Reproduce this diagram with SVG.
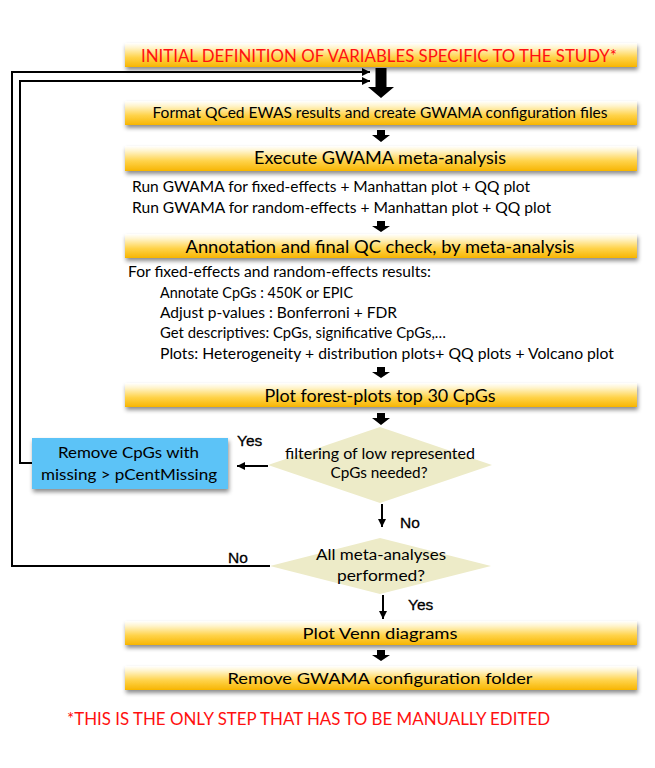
<svg xmlns="http://www.w3.org/2000/svg" width="655" height="768" viewBox="0 0 655 768">
<style>
  .t { font-family: Lato, "Liberation Sans", sans-serif; fill: #000; }
  .c { text-anchor: middle; }
  .red { fill: #FF1010; }
  .lbl { font-family: "Liberation Sans", Arial, sans-serif; font-size: 15.5px; fill: #000; stroke: #000; stroke-width: 0.3; }
  .box { fill: url(#gold); filter: url(#sh); }
  .dia { fill: #EDEBC8; }
  .blue { fill: #5BC3F7; filter: url(#sh); }
  .ln { fill: none; stroke: #000; stroke-width: 2; }
  .blk { fill: #000; }
</style>
<defs>
  <linearGradient id="gold" x1="0" y1="0" x2="0" y2="1">
    <stop offset="0" stop-color="#FFFFFF"/>
    <stop offset="0.2" stop-color="#FFF4CC"/>
    <stop offset="0.6" stop-color="#FFD34A"/>
    <stop offset="1" stop-color="#F7B500"/>
  </linearGradient>
  <filter id="sh" x="-5%" y="-30%" width="110%" height="170%">
    <feDropShadow dx="1" dy="3" stdDeviation="2" flood-color="#000" flood-opacity="0.45"/>
  </filter>
  <marker id="ah" markerUnits="userSpaceOnUse" markerWidth="10" markerHeight="10" refX="8" refY="4" orient="auto">
    <path d="M0,0 L8,4 L0,8 z" fill="#000"/>
  </marker>
</defs>

<g id="connectors">
  <polyline class="ln" points="270,566 12,566 12,72 370,72" marker-end="url(#ah)"/>
  <polyline class="ln" points="32,463 20,463 20,81 370,81" marker-end="url(#ah)"/>
  <line class="ln" x1="268" y1="466" x2="237" y2="466" marker-end="url(#ah)"/>
  <line class="ln" x1="382" y1="504" x2="382" y2="527" marker-end="url(#ah)"/>
  <line class="ln" x1="383" y1="595" x2="383" y2="619" marker-end="url(#ah)"/>
  <polygon class="blk" points="375.5,68 386.5,68 386.5,87 394,87 381,98 368,87 375.5,87"/>
  <polygon class="blk" points="377,130 385,130 385,135 390,135 381,142 372,135 377,135"/>
  <polygon class="blk" points="377,221 385,221 385,226 390,226 381,232 372,226 377,226"/>
  <polygon class="blk" points="377,367 385,367 385,372 390,372 381,378 372,372 377,372"/>
  <polygon class="blk" points="377,413 385,413 385,418 390,418 381,425 372,418 377,418"/>
  <polygon class="blk" points="377,650 385,650 385,655 390,655 381,661 372,655 377,655"/>
</g>

<g id="n1">
  <rect class="box" x="125" y="43" width="512" height="24"/>
  <text class="t c red" x="379" y="61.5" font-size="16.5" textLength="476" lengthAdjust="spacingAndGlyphs">INITIAL DEFINITION OF VARIABLES SPECIFIC TO THE STUDY*</text>
</g>
<g id="n2">
  <rect class="box" x="125" y="101" width="512" height="24"/>
  <text class="t c" x="380" y="118" font-size="14.5" textLength="455" lengthAdjust="spacingAndGlyphs">Format QCed EWAS results and create GWAMA configuration files</text>
</g>
<g id="n3">
  <rect class="box" x="125" y="146" width="512" height="25"/>
  <text class="t c" x="380" y="164" font-size="17" textLength="252" lengthAdjust="spacingAndGlyphs">Execute GWAMA meta-analysis</text>
  <text class="t" x="132" y="192" font-size="14.5" textLength="398" lengthAdjust="spacingAndGlyphs">Run GWAMA for fixed-effects + Manhattan plot + QQ plot</text>
  <text class="t" x="132" y="213" font-size="14.5" textLength="419" lengthAdjust="spacingAndGlyphs">Run GWAMA for random-effects + Manhattan plot + QQ plot</text>
</g>
<g id="n4">
  <rect class="box" x="125" y="234" width="512" height="24"/>
  <text class="t c" x="380" y="252.5" font-size="18" textLength="389" lengthAdjust="spacingAndGlyphs">Annotation and final QC check, by meta-analysis</text>
  <text class="t" x="128" y="277" font-size="14.5" textLength="303" lengthAdjust="spacingAndGlyphs">For fixed-effects and random-effects results:</text>
  <text class="t" x="160" y="298" font-size="14.5" textLength="193" lengthAdjust="spacingAndGlyphs">Annotate CpGs : 450K or EPIC</text>
  <text class="t" x="160" y="318" font-size="14.5" textLength="237" lengthAdjust="spacingAndGlyphs">Adjust p-values : Bonferroni + FDR</text>
  <text class="t" x="160" y="338" font-size="14.5" textLength="286" lengthAdjust="spacingAndGlyphs">Get descriptives: CpGs, significative CpGs,…</text>
  <text class="t" x="160" y="359" font-size="14.5" textLength="454" lengthAdjust="spacingAndGlyphs">Plots: Heterogeneity + distribution plots+ QQ plots + Volcano plot</text>
</g>
<g id="n5">
  <rect class="box" x="125" y="383" width="512" height="24"/>
  <text class="t c" x="380" y="401.5" font-size="17.5" textLength="231" lengthAdjust="spacingAndGlyphs">Plot forest-plots top 30 CpGs</text>
</g>
<g id="d1">
  <polygon class="dia" points="380,427 492,465 380,503 268,465"/>
  <text class="t c" x="380" y="459" font-size="15" textLength="190" lengthAdjust="spacingAndGlyphs">filtering of low represented</text>
  <text class="t c" x="379" y="478" font-size="15" textLength="97" lengthAdjust="spacingAndGlyphs">CpGs needed?</text>
</g>
<g id="blue">
  <rect class="blue" x="32" y="438" width="196" height="51"/>
  <text class="t c" x="128.5" y="458" font-size="15.5" textLength="141" lengthAdjust="spacingAndGlyphs">Remove CpGs with</text>
  <text class="t c" x="129" y="480" font-size="15.5" textLength="176" lengthAdjust="spacingAndGlyphs">missing &gt; pCentMissing</text>
</g>
<g id="d2">
  <polygon class="dia" points="380,538 491,566 380,594 270,566"/>
  <text class="t c" x="381" y="560" font-size="15.5" textLength="130" lengthAdjust="spacingAndGlyphs">All meta-analyses</text>
  <text class="t c" x="381" y="581" font-size="15.5" textLength="88" lengthAdjust="spacingAndGlyphs">performed?</text>
</g>
<g id="n6">
  <rect class="box" x="125" y="621" width="512" height="24"/>
  <text class="t c" x="380" y="639" font-size="16" textLength="155" lengthAdjust="spacingAndGlyphs">Plot Venn diagrams</text>
</g>
<g id="n7">
  <rect class="box" x="125" y="666" width="512" height="24"/>
  <text class="t c" x="380" y="684" font-size="16" textLength="305" lengthAdjust="spacingAndGlyphs">Remove GWAMA configuration folder</text>
</g>
<g id="labels">
  <text class="lbl" x="237" y="446">Yes</text>
  <text class="lbl" x="228" y="563">No</text>
  <text class="lbl" x="400" y="528">No</text>
  <text class="lbl" x="408" y="610">Yes</text>
</g>
<g id="footer">
  <text class="t red" x="67" y="725" font-size="16.5" textLength="483" lengthAdjust="spacingAndGlyphs">*THIS IS THE ONLY STEP THAT HAS TO BE MANUALLY EDITED</text>
</g>
</svg>
